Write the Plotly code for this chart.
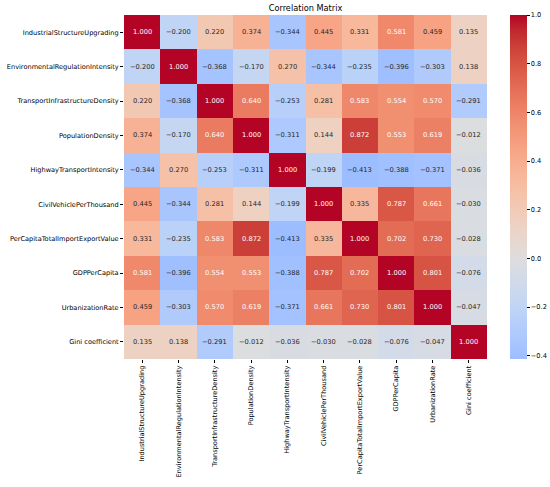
import plotly.graph_objects as go

variables = [
    'IndustrialStructureUpgrading',
    'EnvironmentalRegulationIntensity',
    'TransportInfrastructureDensity',
    'PopulationDensity',
    'HighwayTransportIntensity',
    'CivilVehiclePerThousand',
    'PerCapitaTotalImportExportValue',
    'GDPPerCapita',
    'UrbanizationRate',
    'Gini coefficient',
]

row_industrial = [1.000, -0.200, 0.220, 0.374, -0.344, 0.445, 0.331, 0.581, 0.459, 0.135]
row_envreg = [-0.200, 1.000, -0.368, -0.170, 0.270, -0.344, -0.235, -0.396, -0.303, 0.138]
row_transport = [0.220, -0.368, 1.000, 0.640, -0.253, 0.281, 0.583, 0.554, 0.570, -0.291]
row_population = [0.374, -0.170, 0.640, 1.000, -0.311, 0.144, 0.872, 0.553, 0.619, -0.012]
row_highway = [-0.344, 0.270, -0.253, -0.311, 1.000, -0.199, -0.413, -0.388, -0.371, -0.036]
row_vehicle = [0.445, -0.344, 0.281, 0.144, -0.199, 1.000, 0.335, 0.787, 0.661, -0.030]
row_importexport = [0.331, -0.235, 0.583, 0.872, -0.413, 0.335, 1.000, 0.702, 0.730, -0.028]
row_gdp = [0.581, -0.396, 0.554, 0.553, -0.388, 0.787, 0.702, 1.000, 0.801, -0.076]
row_urban = [0.459, -0.303, 0.570, 0.619, -0.371, 0.661, 0.730, 0.801, 1.000, -0.047]
row_gini = [0.135, 0.138, -0.291, -0.012, -0.036, -0.030, -0.028, -0.076, -0.047, 1.000]

corr = [row_industrial, row_envreg, row_transport, row_population, row_highway,
        row_vehicle, row_importexport, row_gdp, row_urban, row_gini]

colorbar_ticks = [-0.4, -0.2, 0.0, 0.2, 0.4, 0.6, 0.8, 1.0]

# matplotlib coolwarm (Moreland), 33 control points
COOLWARM = [
    (59, 76, 192), (68, 90, 204), (77, 104, 215), (87, 117, 225), (98, 130, 234),
    (108, 142, 241), (119, 154, 247), (130, 165, 251), (141, 176, 254), (152, 185, 255),
    (163, 194, 255), (174, 201, 253), (184, 208, 249), (194, 213, 244), (204, 217, 238),
    (213, 219, 230), (221, 221, 221), (229, 216, 209), (236, 211, 197), (241, 204, 185),
    (245, 196, 173), (247, 187, 160), (247, 177, 148), (247, 166, 135), (244, 154, 123),
    (241, 141, 111), (236, 127, 99), (229, 112, 88), (222, 96, 77), (213, 80, 66),
    (203, 62, 56), (192, 40, 47), (180, 4, 38),
]


def coolwarm(p):
    p = min(max(p, 0.0), 1.0)
    n = len(COOLWARM) - 1
    i = min(int(p * n), n - 1)
    f = p * n - i
    a, b = COOLWARM[i], COOLWARM[i + 1]
    return tuple(a[k] + (b[k] - a[k]) * f for k in range(3))


def rgb(c):
    return 'rgb(%d,%d,%d)' % tuple(round(v) for v in c)


def luminance(c):
    lin = []
    for v in c:
        v = v / 255
        lin.append(v / 12.92 if v <= 0.03928 else ((v + 0.055) / 1.055) ** 2.4)
    return 0.2126 * lin[0] + 0.7152 * lin[1] + 0.0722 * lin[2]


# seaborn-like centering at 0
vmin = min(min(r) for r in corr)
vmax = max(max(r) for r in corr)
vrange = max(vmax, -vmin)
p_lo = 0.5 + vmin / (2 * vrange)
p_hi = 0.5 + vmax / (2 * vrange)
n = len(COOLWARM) - 1
positions = [p_lo] + [i / n for i in range(n + 1) if p_lo < i / n < p_hi] + [p_hi]
colorscale = [[(p - p_lo) / (p_hi - p_lo), rgb(coolwarm(p))] for p in positions]

font = 'DejaVu Sans, Verdana, sans-serif'
tick_size = 6.6

fig = go.Figure(go.Heatmap(
    z=corr,
    x=variables,
    y=variables,
    zmin=vmin,
    zmax=vmax,
    colorscale=colorscale,
    xgap=0,
    ygap=0,
    colorbar=dict(
        xref='container', x=510 / 550, xanchor='left', xpad=0,
        y=0.5, yanchor='middle', ypad=0,
        len=1, lenmode='fraction', thickness=17,
        outlinewidth=0,
        tickvals=colorbar_ticks,
        ticktext=[f'{t:.1f}'.replace('-', '\u2212') for t in colorbar_ticks],
        ticks='outside', ticklen=3, tickwidth=0.8, tickcolor='black',
        tickfont=dict(family=font, size=tick_size, color='black'),
    ),
    hovertemplate='%{y}<br>%{x}<br>%{z:.3f}<extra></extra>',
))

annotations = []
for i, row_name in enumerate(variables):
    for j, col_name in enumerate(variables):
        v = corr[i][j]
        c = coolwarm(0.5 + v / (2 * vrange))
        annotations.append(dict(
            x=col_name, y=row_name, xref='x', yref='y',
            text=f'{v:.3f}'.replace('-', '\u2212'),
            showarrow=False,
            font=dict(family=font, size=6.7,
                      color='#262626' if luminance(c) > 0.408 else 'white'),
        ))

fig.update_layout(
    width=550, height=487,
    margin=dict(l=124, r=63, t=15, b=128),
    paper_bgcolor='white', plot_bgcolor='white',
    title=dict(text='Correlation Matrix', x=(124 + 487) / 2 / 550, xanchor='center',
               y=1 - 8 / 487, yanchor='middle',
               font=dict(family=font, size=8.2, color='black')),
    annotations=annotations,
    xaxis=dict(
        tickangle=-90, ticks='outside', ticklen=3, tickwidth=0.8, tickcolor='black',
        tickfont=dict(family=font, size=tick_size, color='black'),
        showgrid=False, zeroline=False, showline=False, automargin=False,
    ),
    yaxis=dict(
        autorange='reversed', ticks='outside', ticklen=3, tickwidth=0.8, tickcolor='black',
        tickfont=dict(family=font, size=tick_size, color='black'),
        showgrid=False, zeroline=False, showline=False, automargin=False,
    ),
)

# drop the browser's default body margin so the figure sits at the page corner
fig.write_html('out.html', config={'displayModeBar': False},
               post_script="document.body.style.margin='0px';")
